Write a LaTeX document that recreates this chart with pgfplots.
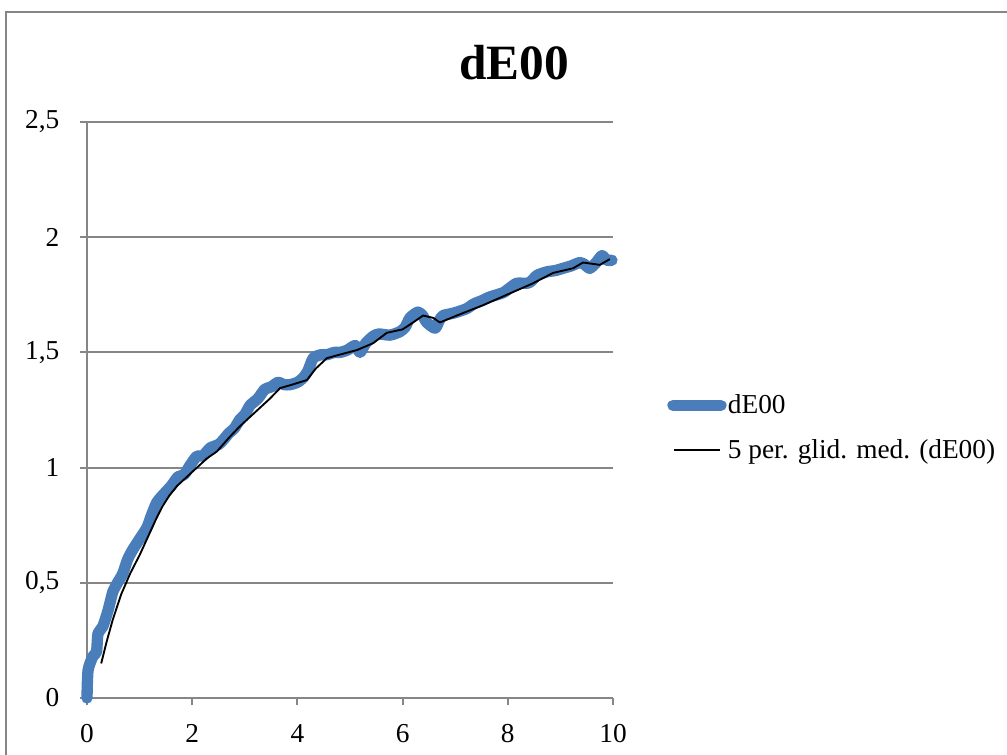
\documentclass[border=0pt]{standalone}
\usepackage{fontspec}
\setmainfont{Liberation Serif}
\usepackage{pgfplots}
\pgfplotsset{compat=1.18}
\definecolor{xlblue}{RGB}{74,126,187}
\definecolor{xlgray}{RGB}{134,134,134}
\begin{document}
\begin{tikzpicture}
\useasboundingbox (0pt,0pt) rectangle (755.25pt,565.5pt);
\draw[xlgray, line width=1.5pt] (4.125pt,-15pt) rectangle (772pt,556.125pt);
\node[font=\fontsize{37}{40}\selectfont\bfseries] at (385.5pt,518.25pt) {dE00};
\begin{axis}[
  at={(65.25pt,42pt)}, anchor=south west,
  scale only axis, width=394.5pt, height=432pt,
  xmin=0, xmax=10, ymin=0, ymax=2.5,
  xtick={0,2,4,6,8,10}, ytick={0,0.5,1,1.5,2,2.5},
  axis lines*=left,
  axis line style={xlgray, line width=1.5pt},
  ymajorgrids, grid style={xlgray, line width=1.5pt},
  tick style={xlgray, line width=1.5pt},
  tick align=outside, major tick length=5.25pt,
  /pgf/number format/.cd, use comma, assume math mode=true, /pgfplots/.cd,
  ticklabel style={font=\fontsize{20.5}{24}\selectfont},
  yticklabel style={xshift=-12pt},
  xticklabel style={yshift=-11pt},
  clip=false,
  legend style={at={(1.1027,0.469)}, anchor=west, draw=none, fill=none,
    font=\fontsize{20.5}{24}\selectfont, row sep=16pt, inner sep=0pt,
    nodes={inner sep=1pt}},
  legend cell align=left,
]
\addplot[xlblue, line width=8.5pt, line join=round, line cap=round, smooth, tension=0.4,
  legend image code/.code={\draw[xlblue, line width=8.5pt, line cap=round] (2pt,0pt) -- (38pt,0pt);}]
coordinates {
(0.0,0.0) (0.02,0.12) (0.11,0.18) (0.18,0.20) (0.21,0.28) (0.30,0.31)
(0.40,0.38) (0.49,0.46) (0.58,0.50) (0.68,0.54) (0.77,0.60) (0.86,0.64)
(1.0,0.69) (1.14,0.74) (1.22,0.79) (1.33,0.85) (1.48,0.89) (1.60,0.92)
(1.73,0.96) (1.85,0.97) (1.96,1.01) (2.09,1.05) (2.20,1.05) (2.34,1.085)
(2.50,1.10) (2.59,1.12) (2.70,1.15) (2.80,1.17) (2.91,1.21) (3.0,1.23)
(3.10,1.27) (3.25,1.30) (3.38,1.34) (3.50,1.35) (3.63,1.37) (3.75,1.36)
(3.86,1.36) (4.0,1.37) (4.11,1.39) (4.20,1.42) (4.30,1.475) (4.45,1.49)
(4.56,1.49) (4.70,1.50) (4.81,1.50) (4.95,1.51) (5.10,1.53) (5.19,1.50)
(5.30,1.54) (5.44,1.57) (5.55,1.58) (5.76,1.575) (5.95,1.59) (6.05,1.61)
(6.14,1.65) (6.29,1.675) (6.38,1.66) (6.46,1.63) (6.62,1.605) (6.70,1.64)
(6.77,1.66) (6.96,1.67) (7.10,1.68) (7.22,1.69) (7.35,1.71) (7.51,1.725)
(7.65,1.74) (7.79,1.75) (7.92,1.76) (8.04,1.78) (8.17,1.80) (8.37,1.80)
(8.45,1.81) (8.56,1.835) (8.75,1.85) (8.90,1.855) (9.05,1.865) (9.20,1.875)
(9.37,1.89) (9.47,1.88) (9.56,1.865) (9.68,1.89) (9.79,1.92) (9.88,1.90)
(9.98,1.90)
};
\addlegendentry{dE00}
\addplot[black, line width=1.4pt, line join=round,
  legend image code/.code={\draw[black, line width=1.3pt] (3pt,0pt) -- (37pt,0pt);}]
coordinates {
(0.27,0.15) (0.38,0.25) (0.49,0.34) (0.65,0.45) (0.82,0.54) (1.0,0.62)
(1.14,0.69) (1.30,0.77) (1.43,0.83) (1.57,0.88) (1.71,0.92) (1.90,0.96)
(2.09,1.0) (2.28,1.04) (2.47,1.07) (2.70,1.13) (2.91,1.18) (3.10,1.22)
(3.29,1.26) (3.48,1.30) (3.67,1.345) (3.90,1.36) (4.18,1.38) (4.35,1.43)
(4.56,1.475) (4.80,1.49) (5.13,1.51) (5.44,1.54) (5.70,1.585) (6.00,1.60)
(6.20,1.63) (6.39,1.66) (6.58,1.65) (6.71,1.63) (7.03,1.66) (7.53,1.705)
(7.98,1.75) (8.48,1.80) (8.86,1.845) (9.24,1.865) (9.43,1.89) (9.75,1.88)
(9.94,1.905)
};
\addlegendentry{5 per. glid. med. (dE00)}
\end{axis}
\end{tikzpicture}
\end{document}
